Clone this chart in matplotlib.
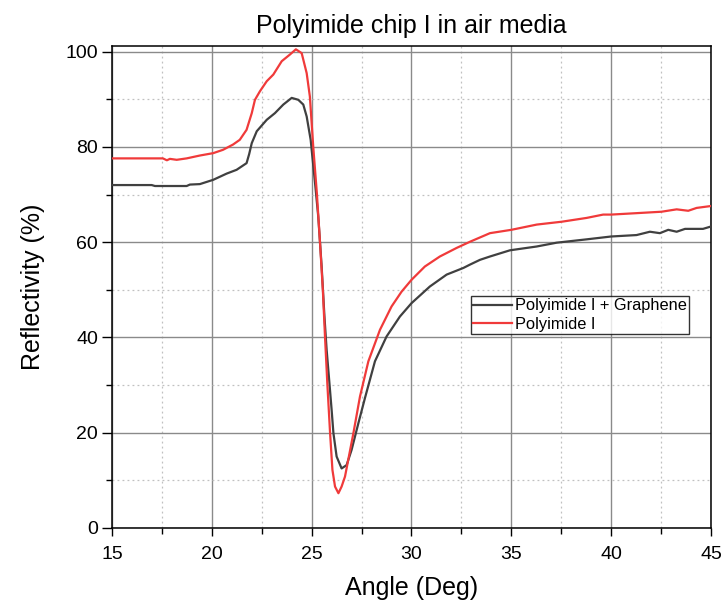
import matplotlib
matplotlib.use("Agg")
import matplotlib.pyplot as plt
from matplotlib.ticker import MultipleLocator

plt.rcParams['font.family'] = ['Liberation Sans', 'DejaVu Sans']

# Reflectivity vs. incidence angle
angle_graphene = [15.0, 16.0, 16.99, 17.15, 18.0, 18.74, 18.9, 19.4, 20.07, 20.74,
                  21.24, 21.74, 21.87, 22.0, 22.25, 22.75, 23.16, 23.58, 24.0, 24.33,
                  24.58, 24.75, 24.95, 25.17, 25.33, 25.5, 25.64, 25.75, 25.89, 26.0,
                  26.09, 26.25, 26.5, 26.75, 27.0, 27.34, 27.67, 28.17, 28.75, 29.42,
                  30.0, 30.92, 31.76, 32.6, 32.93, 33.43, 33.93, 34.93, 36.27, 37.27,
                  38.77, 40.0, 41.27, 41.94, 42.44, 42.86, 43.28, 43.7, 44.6, 45.0]
refl_graphene = [72.0, 72.0, 72.0, 71.8, 71.8, 71.8, 72.1, 72.2, 73.1, 74.4,
                 75.2, 76.6, 78.5, 80.8, 83.3, 85.7, 87.1, 88.9, 90.3, 89.9,
                 88.9, 86.4, 81.5, 72.4, 65.4, 54.9, 44.4, 37.4, 30.4, 24.8,
                 19.9, 15.0, 12.5, 13.2, 16.4, 22.0, 27.3, 35.0, 40.2, 44.4,
                 47.2, 50.7, 53.2, 54.6, 55.3, 56.3, 57.0, 58.3, 59.1, 59.9,
                 60.6, 61.2, 61.5, 62.2, 61.9, 62.6, 62.2, 62.8, 62.8, 63.3]

angle_pi = [15.0, 17.0, 17.55, 17.75, 17.9, 18.24, 18.74, 19.4, 20.07, 20.56,
            21.06, 21.4, 21.74, 22.0, 22.16, 22.41, 22.75, 23.08, 23.5, 23.91,
            24.21, 24.5, 24.75, 24.91, 25.08, 25.26, 25.42, 25.56, 25.67, 25.79,
            25.92, 26.04, 26.17, 26.34, 26.5, 26.67, 27.09, 27.42, 27.84, 28.42,
            29.0, 29.5, 30.0, 30.67, 31.42, 32.26, 32.93, 33.93, 35.0, 36.27,
            37.52, 38.77, 39.6, 40.0, 41.27, 42.52, 43.28, 43.86, 44.28, 45.0]
refl_pi = [77.6, 77.6, 77.6, 77.2, 77.5, 77.3, 77.6, 78.2, 78.7, 79.4,
           80.5, 81.5, 83.6, 87.1, 89.9, 91.7, 93.8, 95.2, 98.0, 99.4,
           100.5, 99.7, 95.5, 90.6, 80.0, 70.3, 59.8, 50.0, 40.0, 29.9,
           20.1, 12.2, 8.7, 7.3, 8.7, 10.8, 19.9, 27.6, 35.0, 41.6,
           46.5, 49.6, 52.1, 54.9, 57.0, 58.8, 60.1, 61.9, 62.6, 63.7,
           64.3, 65.1, 65.8, 65.8, 66.1, 66.4, 66.9, 66.6, 67.2, 67.6]

labels = ["Polyimide I + Graphene", "Polyimide I"]
colors = ["#404040", "#f03a3a"]

fig = plt.figure(figsize=(7.23, 6.05), dpi=100)
ax = fig.add_axes([0.1549, 0.1273, 0.8285, 0.7967])

ax.plot(angle_graphene, refl_graphene, color=colors[0], lw=1.6, label=labels[0], zorder=3)
ax.plot(angle_pi, refl_pi, color=colors[1], lw=1.6, label=labels[1], zorder=3)

ax.set_xlim(15, 45)
ax.set_ylim(0, 101.2)
ax.xaxis.set_major_locator(MultipleLocator(5))
ax.xaxis.set_minor_locator(MultipleLocator(2.5))
ax.yaxis.set_major_locator(MultipleLocator(20))
ax.yaxis.set_minor_locator(MultipleLocator(10))

ax.grid(which='major', color='#8a8a8a', lw=1.0, ls='-', zorder=1)
ax.grid(which='minor', color='#c0c0c0', lw=0.9, ls=(0, (1.5, 2.5)), zorder=1)
ax.set_axisbelow(True)

ax.tick_params(which='major', direction='out', width=1.0, labelsize=14,
               colors='black', top=False, right=False)
ax.tick_params(axis='y', which='major', length=7, pad=3)
ax.tick_params(axis='x', which='major', length=6, pad=7)
ax.tick_params(which='minor', direction='out', length=4, width=1.0,
               top=False, right=False)
for s in ax.spines.values():
    s.set_linewidth(1.1)
    s.set_color('black')

ax.set_xlabel("Angle (Deg)", fontsize=18, labelpad=9)
ax.set_ylabel("Reflectivity (%)", fontsize=18, labelpad=15)
ax.set_title("Polyimide chip I in air media", fontsize=18, pad=9)

leg = ax.legend(loc='lower left', bbox_to_anchor=(0.599, 0.402), fontsize=11.8,
                frameon=True, fancybox=False, borderpad=0.15, labelspacing=0.2,
                handlelength=2.35, handletextpad=0.2, borderaxespad=0)
leg.get_frame().set_edgecolor('black')
leg.get_frame().set_linewidth(1.0)

fig.savefig("out.png", dpi=100)
